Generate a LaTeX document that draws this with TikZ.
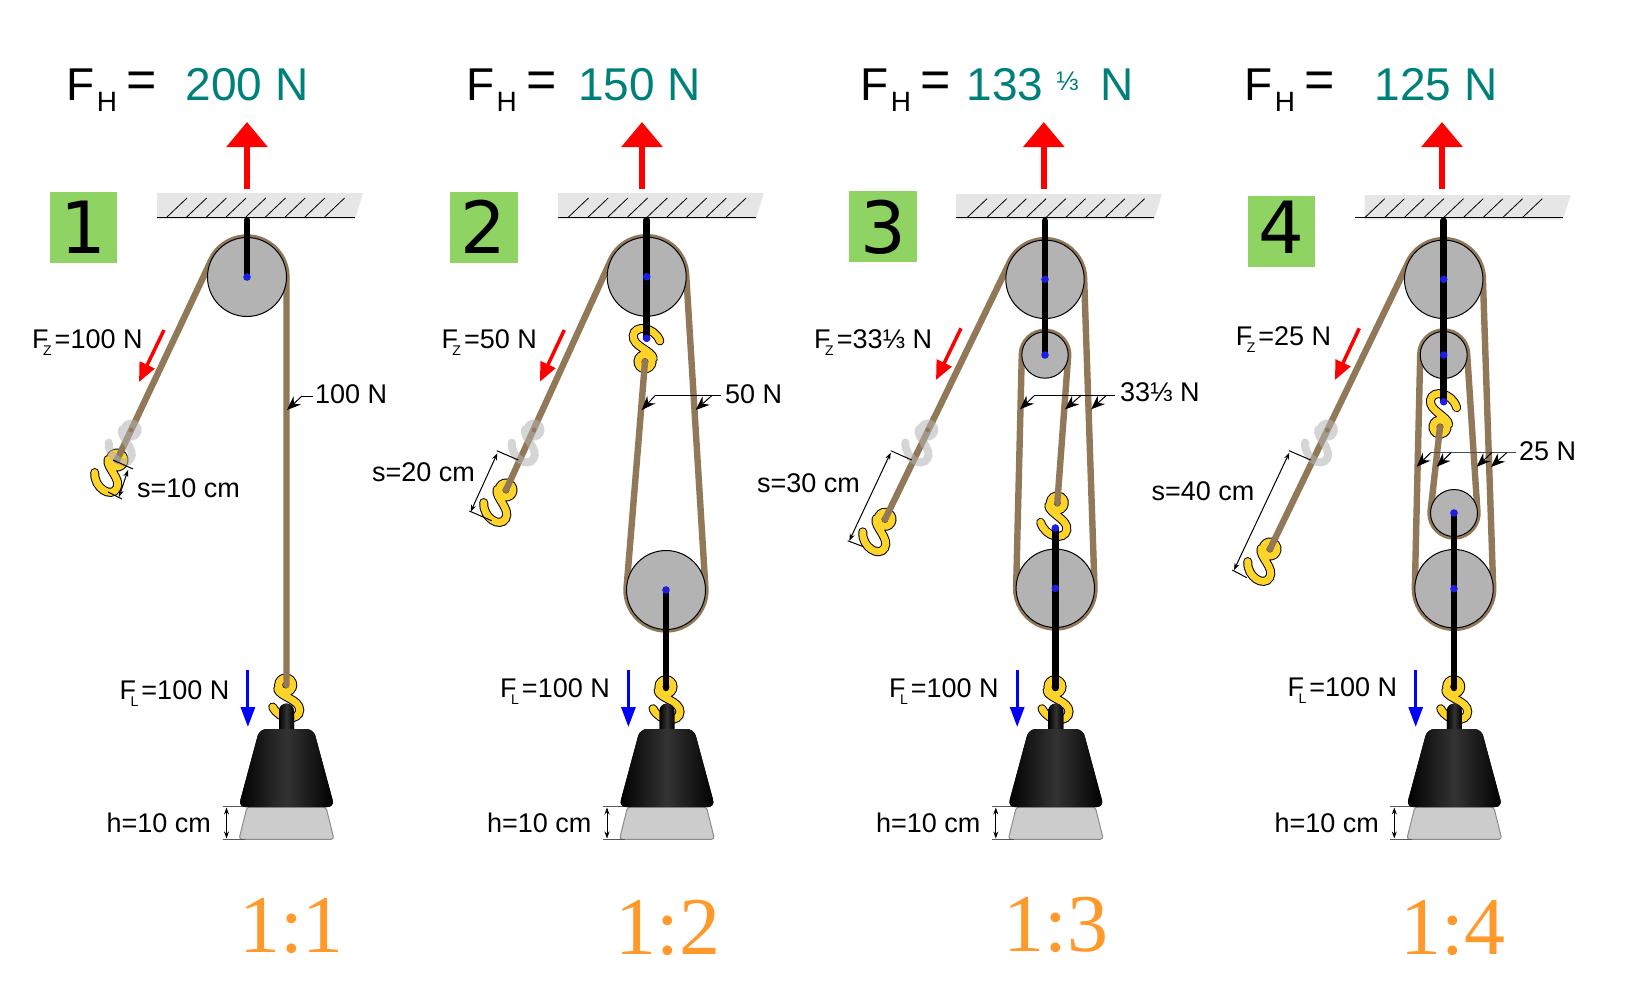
\documentclass[tikz,border=0pt]{standalone}
\usepackage{fontspec}
\setmainfont{Liberation Sans}
\newfontfamily\digitfont{DejaVu Sans}
\newfontfamily\ratiofont{Liberation Serif}
\usetikzlibrary{calc,arrows.meta}
\definecolor{ropebrown}{RGB}{145,120,88}
\definecolor{hookyellow}{RGB}{255,212,42}
\definecolor{boxgreen}{RGB}{143,212,98}
\definecolor{wheelgrey}{RGB}{179,179,179}
\definecolor{ceilgrey}{RGB}{230,230,230}
\definecolor{valueteal}{RGB}{0,128,122}
\definecolor{ratioorange}{RGB}{255,153,43}
\definecolor{dotblue}{RGB}{30,30,225}
\tikzset{
	x=1pt,y=-1pt,
	rope/.style={draw=ropebrown,line width=6.4pt,line cap=round,line join=round},
	axle/.style={draw=black,line width=6.5pt,line cap=round},
	wheel/.style={fill=wheelgrey,draw=black,line width=1pt},
	hookedge/.style={draw=black,line width=9pt,line cap=round},
	hookbody/.style={draw=hookyellow,line width=7pt,line cap=round},
	hookghost/.style={draw=black!30,line width=8pt,line cap=round,opacity=.55},
	liftarrow/.style={draw=red,line width=6pt,-{Triangle[length=25pt,width=40pt]},red},
	pullarrow/.style={draw=red,line width=3.5pt,-{Triangle[length=19pt,width=16pt]},red},
	loadarrow/.style={draw=blue,line width=3pt,-{Triangle[length=20pt,width=14pt]},blue},
	pointer/.style={draw=black,line width=1pt,-{Stealth[length=14pt,width=11pt]}},
	dimline/.style={draw=black,line width=1pt,{Stealth[length=7pt,width=5pt]}-{Stealth[length=7pt,width=5pt]}},
	tick/.style={draw=black,line width=1pt},
	lbl/.style={anchor=base west,inner sep=0pt,font=\fontsize{27}{30}\selectfont},
	headlbl/.style={anchor=base west,inner sep=0pt,font=\fontsize{46}{50}\selectfont},
	valuelbl/.style={headlbl,text=valueteal},
	digitlbl/.style={anchor=base,inner sep=0pt,font=\digitfont\fontsize{72}{76}\selectfont},
	ratiolbl/.style={anchor=base,inner sep=0pt,text=ratioorange,font=\ratiofont\fontsize{82}{86}\selectfont},
}
\newcommand{\hookshape}{(0,0) circle[radius=7] (-8,4) .. controls (-6,12) and (14,14) .. (14,25) .. controls (14,36) and (-6,36) .. (-13,22)}
\newcommand{\hookat}[3]{\begin{scope}[shift={(#1,#2)},rotate=#3]
	\draw[hookedge] \hookshape;
	\draw[hookbody] \hookshape;
	\end{scope}}
\newcommand{\ghostat}[2]{\begin{scope}[shift={(#1,#2)},rotate=-30]
	\draw[hookghost] (0,0) circle[radius=6.5] (-8,4) .. controls (-6,12) and (14,14) .. (14,25) .. controls (14,36) and (-6,36) .. (-13,22);
	\end{scope}}
\newcommand{\wheelat}[3]{\draw[wheel] (#1,#2) circle[radius=#3];}
\newcommand{\dotat}[2]{\fill[dotblue] (#1,#2) circle[radius=3.8];}
\newcommand{\ceiling}[5]{\fill[ceilgrey] (#1,#4) -- ++(206,0) -- ++(-8,#5-#4+2) -- (#1,#5+2) -- cycle;
	\draw[line width=1pt] (#2,#5) -- (#1+198,#5);
	\foreach \k in {0,...,8} \draw[line width=.8pt] (#3+19.7*\k,#5) -- ++(20,-19);}
\newcommand{\weightat}[1]{\begin{scope}[shift={(#1,0)}]
	\draw[fill=black!20,draw=black!45,line width=1pt,rounded corners=3pt] (-39.5,807) -- (39.5,807) -- (47.5,839.3) -- (-47.5,839.3) -- cycle;
	\draw[black!65,line width=1.2pt] (-64,806.7) -- (-40,806.7) (-64,839.3) -- (-42,839.3);
	\draw[dimline] (-60,807.5) -- (-60,838.5);
	\fill[left color=black,right color=black,middle color=black!80!white] (-7.5,730) -- (-7.5,711) arc[start angle=180,end angle=360,radius=7.5] -- (7.5,730) -- cycle;
	\fill[left color=black,right color=black,middle color=black!80!white,rounded corners=7pt] (-27,729) -- (27,729) -- (48,807) -- (-48,807) -- cycle;
	\end{scope}}
\newcommand{\Fsub}[1]{F\kern-5.5pt\raisebox{-7pt}{\fontsize{14}{14}\selectfont #1}\kern3pt}
\newcommand{\Fhead}{F\kern2.2pt\raisebox{-11pt}{\fontsize{28}{28}\selectfont H}\kern9.6pt\raisebox{2.3pt}{\fontsize{52}{52}\selectfont =}}
\begin{document}
\begin{tikzpicture}
	\useasboundingbox (0,0) rectangle (1639,1005);

	\ceiling{157}{157}{167}{193}{217}
	\ceiling{557.8}{557.8}{568.5}{193}{217}
	\ceiling{956}{956}{967}{194}{217.7}
	\ceiling{1364.7}{1355}{1364.7}{195}{217.7}

	\fill[boxgreen] (49.7,191.7) rectangle (117.3,262.7);
	\fill[boxgreen] (449.5,192.3) rectangle (517.5,262.7);
	\fill[boxgreen] (849,191.3) rectangle (916.5,262.3);
	\fill[boxgreen] (1248,195.7) rectangle (1315,266.7);
	\node[digitlbl] (d1) at (83.5,253) {1};
	\node[digitlbl] (d2) at (483.5,253) {2};
	\node[digitlbl] (d3) at (883,253.5) {3};
	\node[digitlbl] (d4) at (1281.5,253.5) {4};

	\node[headlbl] (f1) at (66.5,100) {\Fhead};
	\node[headlbl] (f2) at (466,100) {\Fhead};
	\node[headlbl] (f3) at (860.3,100) {\Fhead};
	\node[headlbl] (f4) at (1244.3,100) {\Fhead};
	\node[valuelbl] (v1) at (185.5,100) {200 N};
	\node[valuelbl] (v2) at (578,100) {150 N};
	\node[valuelbl] (v3) at (966.5,100) {133};
	\node[valuelbl,font=\fontsize{27}{30}\selectfont] (v3b) at (1056,90) {⅓};
	\node[valuelbl] (v3c) at (1100.5,100) {N};
	\node[valuelbl] (v4) at (1374.5,100) {125 N};

	\draw[liftarrow] (247,189) -- (247,122);
	\draw[liftarrow] (642,189) -- (642,122);
	\draw[liftarrow] (1043.8,189) -- (1043.8,122);
	\draw[liftarrow] (1442,189) -- (1442,122);

	\draw[pullarrow] (164,330) -- (139,382);
	\draw[pullarrow] (564.3,330) -- (540,381.7);
	\draw[pullarrow] (961,328.3) -- (936,380);
	\draw[pullarrow] (1359.3,328.3) -- (1335,380);

	\hookat{117}{460}{-30}
	\hookat{285.7}{685}{0}
	\draw[rope] (117,460) -- (211.3,260.1) arc[start angle=205.3,end angle=360,radius=39.5] -- (286.5,685);
	\ghostat{131}{430}
	\wheelat{247}{277}{39.5}
	\draw[axle] (247,220) -- (247,277);
	\dotat{247}{277}

	\hookat{506}{490}{-30}
	\hookat{645}{361.7}{175}
	\hookat{666}{686.7}{0}
	\draw[rope] (506,490) -- (610.8,260.3) arc[start angle=204.5,end angle=356.5,radius=39.5] -- (705.4,587.6) arc[start angle=-3.5,end angle=184.6,radius=39.5] -- (645,361.7);
	\ghostat{534}{430}
	\wheelat{646.7}{276.7}{39.5}
	\wheelat{666}{590}{39.5}
	\draw[axle] (646.7,220) -- (646.7,338.3);
	\draw[axle] (666,590) -- (666,688);
	\dotat{646.7}{276.7}
	\dotat{646.7}{338.3}
	\dotat{666}{590}

	\hookat{885}{519.3}{-30}
	\hookat{1057.3}{503}{-10}
	\hookat{1055}{686.7}{0}
	\draw[rope] (885,519.3) -- (1009.7,262.2) arc[start angle=205.9,end angle=358.1,radius=39.2] -- (1094.5,587) arc[start angle=-1.9,end angle=181.4,radius=39.2] -- (1021.8,354.4) arc[start angle=181.4,end angle=364.25,radius=23.2] -- (1057.3,503);
	\ghostat{927.7}{430}
	\wheelat{1045}{279.3}{39.2}
	\wheelat{1045}{355}{23.2}
	\wheelat{1055.3}{588.3}{39.2}
	\draw[axle] (1045,220.7) -- (1045,355);
	\draw[axle] (1055.3,528) -- (1055.3,688);
	\dotat{1045}{279.3}
	\dotat{1045}{355}
	\dotat{1055.3}{528}
	\dotat{1055.3}{588.3}

	\hookat{1270}{549}{-30}
	\hookat{1440}{427}{170}
	\hookat{1453.7}{686.7}{0}
	\draw[rope] (1270,549) -- (1408.4,262.2) arc[start angle=205.8,end angle=358.1,radius=39.2] -- (1493.2,587.4) arc[start angle=-1.9,end angle=181.35,radius=39.2] -- (1420.2,354.4) arc[start angle=181.35,end angle=356.27,radius=23.5] -- (1477.45,511.5) arc[start angle=-3.73,end angle=186.4,radius=23.5] -- (1440,427);
	\ghostat{1327.3}{430}
	\wheelat{1443.7}{279.3}{39.2}
	\wheelat{1443.7}{355}{23.5}
	\wheelat{1454}{513}{23.5}
	\wheelat{1454}{588.7}{39.2}
	\draw[axle] (1443.7,220.7) -- (1443.7,401.7);
	\draw[axle] (1454,513) -- (1454,688);
	\dotat{1443.7}{279.3}
	\dotat{1443.7}{355}
	\dotat{1443.7}{401.7}
	\dotat{1454}{513}
	\dotat{1454}{588.7}

	\foreach \xc/\yl/\i in {286.5/699/1,667/697.3/2,1055.8/697.3/3,1454.3/696/4}{
		\weightat{\xc}
		\draw[loadarrow] (\xc-38.6,670) -- (\xc-38.6,727);
		\node[lbl] (fl\i) at (\xc-167,\yl) {\Fsub{L}=100 N};
		\node[lbl] (hl\i) at (\xc-180,832) {h=10 cm};
	}
	\node[ratiolbl] (r1) at (291.5,952) {1:1};
	\node[ratiolbl] (r2) at (668,954) {1:2};
	\node[ratiolbl] (r3) at (1056,951) {1:3};
	\node[ratiolbl] (r4) at (1453,954) {1:4};

	\node[lbl] (fz1) at (32,348) {\Fsub{Z}=100 N};
	\node[lbl] (fz2) at (441.3,348.3) {\Fsub{Z}=50 N};
	\node[lbl] (fz3) at (814,348) {\Fsub{Z}=33⅓ N};
	\node[lbl] (fz4) at (1235.7,345.7) {\Fsub{Z}=25 N};

	\draw[tick] (113,460) -- (133,469) (108,492) -- (122,499);
	\draw[dimline] (128,470) -- (119,497);
	\node[lbl] (s1) at (137,497) {s=10 cm};
	\draw[tick] (496.7,450.7) -- (518.3,460) (469.3,511) -- (491.7,520.7);
	\draw[dimline] (497.3,453.3) -- (470.7,511.7);
	\node[lbl] (s2) at (372,481.7) {s=20 cm};
	\draw[tick] (890.7,450.7) -- (911.7,460) (847.7,540.7) -- (863.3,546.7);
	\draw[dimline] (890.7,452.7) -- (849.3,540.7);
	\node[lbl] (s3) at (757,492.7) {s=30 cm};
	\draw[tick] (1289,450.7) -- (1310.7,460) (1232.3,570) -- (1246.7,577.7);
	\draw[dimline] (1289.3,452.7) -- (1234,570);
	\node[lbl] (s4) at (1151.5,500) {s=40 cm};

	\draw[tick] (313,396) -- (302,396);
	\draw[pointer] (302,396) -- (287,410);
	\node[lbl] (t1) at (315,403) {100 N};
	\draw[tick] (720.7,395.7) -- (655,395.7);
	\draw[pointer] (655,395.7) -- (641.7,410);
	\draw[pointer] (711.7,395.7) -- (695.7,410);
	\node[lbl] (t2) at (725,403.3) {50 N};
	\draw[tick] (1115,395.7) -- (1034.3,395.7);
	\draw[pointer] (1034.3,395.7) -- (1020,409.3);
	\draw[pointer] (1080.7,395.7) -- (1065,409.3);
	\draw[pointer] (1106,395.7) -- (1091,409.3);
	\node[lbl] (t3) at (1120,401.7) {33⅓ N};
	\draw[tick,black!70] (1516,452.7) -- (1430.7,452.7);
	\draw[pointer] (1430.7,452.7) -- (1416.7,466.7);
	\draw[pointer] (1451,452.7) -- (1436.7,466.7);
	\draw[pointer] (1491.7,452.7) -- (1476.7,466.7);
	\draw[pointer] (1506.7,452.7) -- (1491,467);
	\node[lbl] (t4) at (1519,460) {25 N};
\end{tikzpicture}
\end{document}
